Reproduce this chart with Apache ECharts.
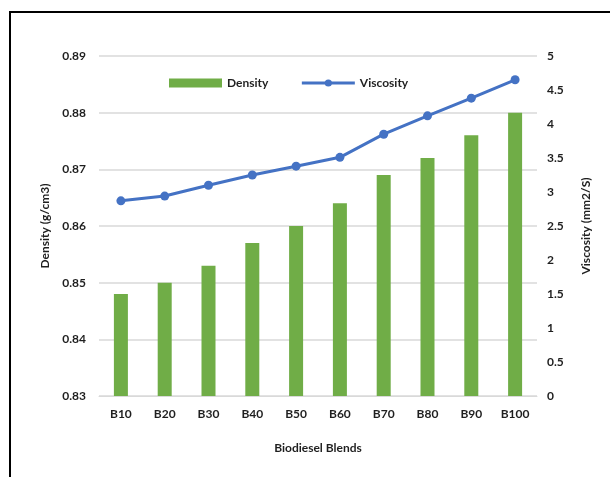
<!DOCTYPE html>
<html>
<head>
<meta charset="utf-8">
<script src="https://cdn.jsdelivr.net/npm/echarts@6/dist/echarts.min.js"></script>
<style>
  html, body { margin: 0; padding: 0; background: #fff; }
  #chart { width: 610px; height: 477px; }
</style>
</head>
<body>
<div id="chart"></div>
<script>
// Biodiesel blend properties
const blends = ['B10', 'B20', 'B30', 'B40', 'B50', 'B60', 'B70', 'B80', 'B90', 'B100'];
const density = [0.848, 0.850, 0.853, 0.857, 0.860, 0.864, 0.869, 0.872, 0.876, 0.880];
const viscosity = [2.87, 2.94, 3.10, 3.25, 3.38, 3.51, 3.85, 4.12, 4.38, 4.65];

const FONT = 'Lato, "Open Sans", sans-serif';
const TEXT = '#1f1f1f';

const chart = echarts.init(document.getElementById('chart'), null, { renderer: 'canvas' });

chart.setOption({
  animation: false,
  backgroundColor: '#fff',
  textStyle: { fontFamily: FONT },
  graphic: [
    // frame around the chart (top and left edges)
    { type: 'line', shape: { x1: 9, y1: 12, x2: 610, y2: 12 }, style: { stroke: '#000', lineWidth: 2 } },
    { type: 'line', shape: { x1: 10, y1: 12, x2: 10, y2: 477 }, style: { stroke: '#000', lineWidth: 2 } }
  ],
  grid: { left: 99, right: 73, top: 56, bottom: 81, containLabel: false },
  legend: {
    left: 164, top: 72,
    itemGap: 32,
    itemWidth: 53, itemHeight: 9,
    textStyle: { fontFamily: FONT, fontWeight: 'bold', fontSize: 12, color: TEXT },
    data: [
      { name: 'Density', icon: 'rect', itemStyle: { color: '#70AD47' } },
      { name: 'Viscosity', lineStyle: { width: 3, color: '#4472C4' }, itemStyle: { color: '#4472C4' } }
    ]
  },
  xAxis: {
    type: 'category',
    data: blends,
    name: 'Biodiesel Blends',
    nameLocation: 'middle',
    nameGap: 46,
    nameTextStyle: { fontFamily: FONT, fontWeight: 'bold', fontSize: 12, color: TEXT },
    axisLine: { lineStyle: { color: '#D9D9D9', width: 1 } },
    axisTick: { show: false },
    axisLabel: { fontFamily: FONT, fontWeight: 'bold', fontSize: 12, color: TEXT, margin: 12 }
  },
  yAxis: [
    {
      type: 'value',
      min: 0.83, max: 0.89, interval: 0.01,
      name: 'Density (g/cm3)',
      nameLocation: 'middle',
      nameGap: 47,
      nameTextStyle: { fontFamily: FONT, fontWeight: 'bold', fontSize: 12, color: TEXT },
      axisLine: { show: false },
      axisTick: { show: false },
      axisLabel: { fontFamily: FONT, fontWeight: 'bold', fontSize: 12, color: TEXT, margin: 13,
        formatter: v => v.toFixed(2) },
      splitLine: { lineStyle: { color: '#D9D9D9', width: 1.5 } }
    },
    {
      type: 'value',
      min: 0, max: 5, interval: 0.5,
      name: 'Viscosity (mm2/S)',
      nameLocation: 'middle',
      nameGap: 43,
      nameRotate: 90,
      nameTextStyle: { fontFamily: FONT, fontWeight: 'bold', fontSize: 12, color: TEXT },
      axisLine: { show: false },
      axisTick: { show: false },
      axisLabel: { fontFamily: FONT, fontWeight: 'bold', fontSize: 12, color: TEXT, margin: 10 },
      splitLine: { show: false }
    }
  ],
  series: [
    {
      name: 'Density',
      type: 'bar',
      yAxisIndex: 0,
      data: density,
      barWidth: 14,
      itemStyle: { color: '#70AD47' }
    },
    {
      name: 'Viscosity',
      type: 'line',
      yAxisIndex: 1,
      data: viscosity,
      symbol: 'circle',
      symbolSize: 9,
      lineStyle: { color: '#4472C4', width: 3 },
      itemStyle: { color: '#4472C4' }
    }
  ]
});
</script>
</body>
</html>
